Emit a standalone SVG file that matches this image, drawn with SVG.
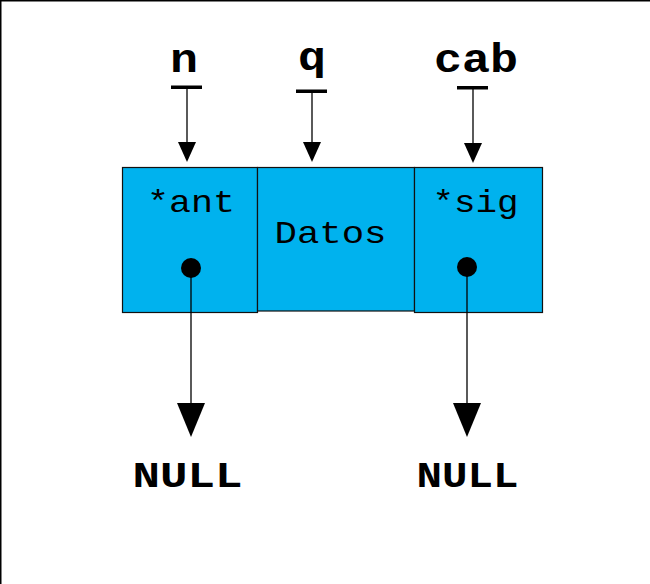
<svg xmlns="http://www.w3.org/2000/svg" width="650" height="584" viewBox="0 0 650 584">
<style>
.box{fill:#00B2EE;stroke:#111;stroke-width:1.2}
.mono{font-family:"Liberation Mono","DejaVu Sans Mono",monospace;fill:#000}
.lbl{font-size:40px;font-weight:bold}
.cell{font-size:32px}
.null{font-size:37px;font-weight:bold}
.ln{stroke:#000;stroke-width:1.3;fill:none}
.head{fill:#000}
.bar{fill:#000}
</style>
<rect width="650" height="584" fill="#fff"/>
<path d="M0.75,584 V0.75 H650" fill="none" stroke="#000" stroke-width="1.5"/>

<g id="node-ant">
<rect class="box" x="122.5" y="167.5" width="135" height="145"/>
<text class="mono cell" x="191" y="212" text-anchor="middle" textLength="88" lengthAdjust="spacingAndGlyphs">*ant</text>
<circle cx="191" cy="268" r="10" fill="#000"/>
</g>
<g id="node-datos">
<rect class="box" x="257.5" y="167.5" width="157" height="143.5"/>
<text class="mono cell" x="330.5" y="243" text-anchor="middle" textLength="112" lengthAdjust="spacingAndGlyphs">Datos</text>
</g>
<g id="node-sig">
<rect class="box" x="414.5" y="167.5" width="128" height="145"/>
<text class="mono cell" x="475.5" y="212" text-anchor="middle" textLength="86" lengthAdjust="spacingAndGlyphs">*sig</text>
<circle cx="467" cy="267" r="10" fill="#000"/>
</g>

<g id="label-n">
<text class="mono lbl" x="184" y="72" text-anchor="middle" textLength="28" lengthAdjust="spacingAndGlyphs">n</text>
<rect class="bar" x="171" y="85.5" width="31" height="3.5"/>
</g>
<g id="label-q">
<text class="mono lbl" x="312" y="70" text-anchor="middle" textLength="28" lengthAdjust="spacingAndGlyphs">q</text>
<rect class="bar" x="296" y="89.5" width="31" height="3.5"/>
</g>
<g id="label-cab">
<text class="mono lbl" x="476" y="72" text-anchor="middle" textLength="84" lengthAdjust="spacingAndGlyphs">cab</text>
<rect class="bar" x="457" y="86" width="31" height="3.5"/>
</g>
<g id="null-left">
<text class="mono null" x="187.5" y="487" text-anchor="middle" textLength="110" lengthAdjust="spacingAndGlyphs">NULL</text>
</g>
<g id="null-right">
<text class="mono null" x="467.5" y="487" text-anchor="middle" textLength="102" lengthAdjust="spacingAndGlyphs">NULL</text>
</g>

<g id="connectors">
<line class="ln" x1="187" y1="89" x2="187" y2="143"/>
<polygon class="head" points="178,142 196,142 187,162"/>
<line class="ln" x1="312" y1="93" x2="312" y2="143"/>
<polygon class="head" points="303,142 321,142 312,162"/>
<line class="ln" x1="473" y1="89" x2="473" y2="144"/>
<polygon class="head" points="464,143 482,143 473,163"/>
<line class="ln" x1="191" y1="268" x2="191" y2="404"/>
<polygon class="head" points="177,403 205,403 191,437"/>
<line class="ln" x1="467" y1="267" x2="467" y2="404"/>
<polygon class="head" points="453,403 481,403 467,437"/>
</g>
</svg>
